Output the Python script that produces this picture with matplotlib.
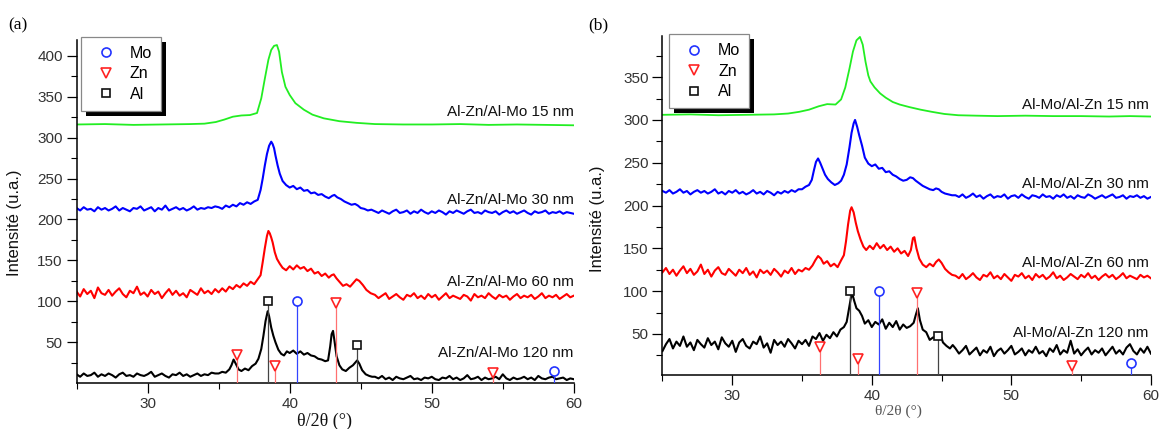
import matplotlib
matplotlib.use("Agg")
import matplotlib.pyplot as plt
from matplotlib.lines import Line2D
from matplotlib.patches import Rectangle
from matplotlib.transforms import IdentityTransform

plt.rcParams['font.family'] = ['Liberation Sans', 'DejaVu Sans']

# ---------------- shared 2theta grids for flat parts of noisy scans ----------------
X_LEFT = [25.0, 25.25, 25.5, 25.75, 26.0, 26.25, 26.5, 26.75, 27.0, 27.25, 27.5, 27.75,
          28.0, 28.25, 28.5, 28.75, 29.0, 29.25, 29.5, 29.75, 30.0, 30.25, 30.5, 30.75,
          31.0, 31.25, 31.5, 31.75, 32.0, 32.25, 32.5, 32.75, 33.0, 33.25, 33.5, 33.75,
          34.0, 34.25, 34.5, 34.75]
X_RIGHT = [46.0, 46.25, 46.5, 46.75, 47.0, 47.25, 47.5, 47.75, 48.0, 48.25, 48.5, 48.75,
           49.0, 49.25, 49.5, 49.75, 50.0, 50.25, 50.5, 50.75, 51.0, 51.25, 51.5, 51.75,
           52.0, 52.25, 52.5, 52.75, 53.0, 53.25, 53.5, 53.75, 54.0, 54.25, 54.5, 54.75,
           55.0, 55.25, 55.5, 55.75, 56.0, 56.25, 56.5, 56.75, 57.0, 57.25, 57.5, 57.75,
           58.0, 58.25, 58.5, 58.75, 59.0, 59.25, 59.5, 59.75, 60.0]

# ---------------- panel (a): Al-Zn/Al-Mo ----------------
A_GREEN_X = [25, 27, 29, 31, 33, 34.0, 34.8, 35.4, 36.0, 36.6, 37.2, 37.7, 38.0, 38.25, 38.5,
             38.7, 38.9, 39.1, 39.25, 39.45, 39.7, 40.0, 40.4, 41.0, 41.6, 42.4, 43.5, 44.7,
             46, 48, 50, 52, 54, 56, 58, 60]
A_GREEN_Y = [316, 316.5, 315.5, 316, 316.5, 317, 319, 322, 325.5, 327, 327.5, 330, 348, 372, 395,
             407, 412, 413, 405, 380, 362, 352, 342, 334, 328, 323.5, 320, 318,
             316.5, 316, 316, 316.5, 315.5, 316, 315.5, 315]

A_BLUE_LEFT = [214, 211, 215, 212, 213, 210, 215, 212, 214, 211, 213, 216, 211, 214, 212, 210,
               214, 213, 216, 211, 213, 215, 210, 214, 212, 217, 211, 213, 215, 212, 214, 211,
               213, 216, 212, 214, 213, 215, 214, 216]
A_BLUE_MID_X = [35.0, 35.25, 35.5, 35.75, 36.0, 36.25, 36.5, 36.75, 37.0, 37.25, 37.5, 37.75,
                37.95, 38.1, 38.25, 38.4, 38.55, 38.7, 38.8, 38.9, 39.0, 39.15, 39.3, 39.5,
                39.75, 40.0, 40.25, 40.5, 40.75, 41.0, 41.25, 41.5, 41.75, 42.0, 42.25, 42.5,
                42.75, 43.0, 43.15, 43.35, 43.6, 43.85, 44.1, 44.35, 44.6, 44.8, 45.0, 45.25,
                45.5, 45.75]
A_BLUE_MID = [215, 213, 217, 215, 218, 216, 220, 218, 221, 219, 222, 224, 236, 250, 266, 280,
              290, 295, 292, 287, 278, 266, 256, 247, 242, 239, 241, 237, 239, 235, 236, 232,
              233, 230, 231, 228, 226, 229, 230, 227, 225, 222, 220, 218, 219, 217, 214, 213,
              211, 212]
A_BLUE_RIGHT = [210, 208, 211, 209, 207, 210, 212, 208, 209, 211, 207, 210, 208, 212, 209, 207,
                210, 208, 211, 209, 206, 210, 208, 211, 209, 207, 210, 212, 208, 209, 207, 211,
                209, 208, 210, 206, 209, 211, 208, 210, 207, 209, 211, 208, 206, 210, 208, 209,
                211, 207, 209, 208, 210, 207, 209, 208, 207]

A_RED_LEFT = [112, 106, 115, 109, 113, 104, 117, 110, 108, 114, 107, 112, 116, 109, 105, 113,
              110, 118, 108, 111, 106, 114, 109, 112, 104, 110, 115, 108, 113, 107, 110, 105,
              114, 111, 108, 116, 110, 113, 109, 115]
A_RED_MID_X = [35.0, 35.25, 35.5, 35.75, 36.0, 36.25, 36.5, 36.75, 37.0, 37.25, 37.5, 37.75,
               37.95, 38.1, 38.25, 38.4, 38.5, 38.6, 38.7, 38.8, 38.95, 39.1, 39.3, 39.5, 39.75,
               40.0, 40.25, 40.5, 40.75, 41.0, 41.25, 41.5, 41.75, 42.0, 42.25, 42.5, 42.75,
               42.95, 43.1, 43.3, 43.5, 43.75, 44.0, 44.25, 44.5, 44.7, 44.9, 45.15, 45.4, 45.7]
A_RED_MID = [111, 116, 112, 118, 115, 120, 117, 122, 119, 124, 121, 127, 132, 148, 165, 180,
             186, 183, 178, 172, 160, 152, 146, 141, 138, 143, 139, 144, 140, 142, 137, 140,
             134, 136, 131, 134, 129, 132, 133, 128, 124, 119, 121, 118, 123, 127, 125, 120,
             114, 110]
A_RED_RIGHT = [108, 104, 107, 110, 103, 106, 109, 105, 102, 108, 106, 110, 104, 107, 103, 109,
               105, 108, 102, 106, 110, 104, 107, 105, 103, 108, 106, 101, 109, 105, 107, 104,
               110, 106, 103, 108, 105, 107, 102, 106, 109, 104, 107, 105, 108, 103, 106, 110,
               104, 107, 105, 108, 103, 106, 109, 105, 107]

A_BLACK_LEFT = [11, 8, 12, 9, 10, 13, 8, 11, 9, 12, 10, 7, 11, 13, 9, 10, 8, 12, 10, 9,
                11, 14, 8, 10, 12, 9, 7, 11, 10, 13, 9, 11, 8, 10, 12, 9, 11, 10, 13, 12]
A_BLACK_MID_X = [35.0, 35.25, 35.5, 35.75, 35.9, 36.05, 36.2, 36.4, 36.6, 36.85, 37.1, 37.35,
                 37.6, 37.8, 38.0, 38.15, 38.3, 38.45, 38.55, 38.7, 38.85, 39.0, 39.2, 39.4,
                 39.6, 39.8, 40.0, 40.25, 40.5, 40.75, 41.0, 41.25, 41.5, 41.75, 42.0, 42.25,
                 42.5, 42.7, 42.85, 42.95, 43.05, 43.15, 43.3, 43.5, 43.7, 43.95, 44.2, 44.45,
                 44.6, 44.75, 44.9, 45.1, 45.35, 45.6, 45.8]
A_BLACK_MID = [12, 14, 13, 17, 22, 29, 24, 17, 15, 18, 16, 21, 24, 30, 42, 58, 76, 88, 82, 68,
               58, 50, 41, 36, 34, 39, 37, 40, 36, 39, 35, 37, 34, 33, 30, 29, 27, 28, 45, 60,
               64, 52, 33, 22, 17, 15, 19, 22, 25, 28, 24, 16, 11, 9, 8]
A_BLACK_RIGHT = [8, 6, 9, 5, 7, 4, 8, 6, 5, 7, 9, 5, 6, 4, 7, 6, 8, 5, 4, 7, 6, 9, 5, 7, 4, 6,
                 10, 5, 6, 8, 4, 7, 5, 6, 8, 5, 11, 6, 4, 7, 5, 6, 8, 5, 7, 4, 9, 6, 5, 7, 8, 5,
                 6, 7, 4, 6, 5]

A_LABELS = ["Al-Zn/Al-Mo 15 nm", "Al-Zn/Al-Mo 30 nm", "Al-Zn/Al-Mo 60 nm", "Al-Zn/Al-Mo 120 nm"]
A_LABEL_Y = [331, 224, 124, 37.5]

# ---------------- panel (b): Al-Mo/Al-Zn ----------------
B_GREEN_X = [25, 27, 29, 31, 33, 34.0, 34.8, 35.5, 36.2, 36.8, 37.4, 37.8, 38.1, 38.4, 38.65,
             38.9, 39.15, 39.35, 39.55, 39.75, 39.9, 40.2, 40.6, 41.0, 41.5, 42.0, 42.7, 43.5,
             44.3, 45.2, 46.2, 47.5, 49, 51, 53, 55, 57, 58.5, 60]
B_GREEN_Y = [306, 306.5, 305.5, 306, 306.5, 307.5, 309.5, 312, 316, 318.5, 318, 324, 338, 360,
             380, 393, 397, 388, 368, 352, 345, 338, 331, 326, 321, 318, 315, 312, 309.5, 307,
             305.5, 305, 304.5, 305, 304.5, 304.5, 304, 304.5, 304]

B_BLUE_LEFT = [217, 215, 218, 214, 216, 219, 215, 217, 213, 216, 218, 215, 217, 214, 216, 219,
               214, 216, 213, 217, 215, 218, 214, 216, 213, 215, 218, 214, 216, 213, 217, 215,
               212, 216, 214, 217, 215, 218, 216, 219]
B_BLUE_MID_X = [35.0, 35.25, 35.5, 35.7, 35.85, 36.0, 36.15, 36.3, 36.45, 36.65, 36.85, 37.1,
                37.35, 37.6, 37.8, 38.0, 38.2, 38.4, 38.55, 38.7, 38.8, 38.95, 39.1, 39.3, 39.5,
                39.75, 40.0, 40.25, 40.5, 40.75, 41.0, 41.25, 41.5, 41.75, 42.0, 42.25, 42.5,
                42.75, 42.95, 43.15, 43.4, 43.65, 43.9, 44.15, 44.4, 44.6, 44.8, 45.0, 45.25,
                45.5, 45.75]
B_BLUE_MID = [219, 222, 224, 230, 241, 251, 255, 250, 244, 236, 231, 227, 224, 226, 229, 236,
              248, 268, 285, 296, 300, 292, 282, 270, 256, 249, 246, 248, 243, 244, 239, 240,
              236, 234, 231, 229, 230, 233, 232, 229, 226, 223, 221, 219, 218, 220, 219, 216,
              214, 213, 212]
B_BLUE_RIGHT = [212, 210, 213, 209, 211, 214, 210, 212, 208, 211, 213, 209, 211, 210, 213, 208,
                211, 212, 209, 213, 210, 208, 212, 211, 209, 213, 210, 211, 208, 212, 210, 213,
                209, 211, 208, 212, 210, 209, 213, 211, 208, 210, 212, 209, 211, 213, 209, 210,
                212, 208, 211, 210, 212, 209, 211, 208, 210]

B_RED_LEFT = [122, 127, 120, 125, 118, 124, 129, 121, 126, 119, 123, 131, 120, 125, 117, 124,
              128, 121, 119, 126, 122, 118, 125, 121, 127, 119, 123, 116, 125, 121, 124, 119,
              126, 122, 117, 124, 121, 127, 120, 125]
B_RED_MID_X = [35.0, 35.25, 35.5, 35.75, 35.95, 36.15, 36.35, 36.55, 36.8, 37.05, 37.3, 37.55,
               37.8, 38.0, 38.15, 38.3, 38.45, 38.55, 38.7, 38.85, 39.0, 39.2, 39.4, 39.6, 39.85,
               40.1, 40.35, 40.6, 40.85, 41.1, 41.35, 41.6, 41.85, 42.1, 42.35, 42.6, 42.8,
               42.95, 43.05, 43.2, 43.4, 43.65, 43.9, 44.15, 44.4, 44.6, 44.8, 45.0, 45.25,
               45.5, 45.75]
B_RED_MID = [123, 127, 125, 130, 136, 141, 138, 132, 135, 129, 132, 128, 136, 142, 158, 178,
             194, 198, 192, 180, 170, 160, 152, 148, 153, 149, 156, 150, 154, 148, 152, 146,
             150, 144, 147, 141, 148, 162, 163, 150, 138, 131, 128, 132, 129, 134, 137, 133,
             126, 122, 119]
B_RED_RIGHT = [118, 115, 120, 114, 117, 121, 116, 113, 119, 117, 122, 115, 118, 114, 120, 116,
               112, 119, 117, 121, 115, 118, 113, 120, 116, 119, 114, 117, 122, 115, 118, 113,
               116, 120, 117, 114, 119, 116, 121, 115, 118, 113, 117, 120, 116, 119, 114, 117,
               121, 115, 118, 116, 114, 119, 116, 118, 115]

B_BLACK_LEFT = [30, 38, 44, 33, 41, 36, 47, 35, 40, 31, 43, 38, 34, 45, 37, 41, 32, 46, 39, 35,
                42, 29, 40, 44, 36, 33, 41, 38, 47, 34, 39, 28, 43, 37, 41, 35, 44, 39, 33, 42]
B_BLACK_MID_X = [35.0, 35.25, 35.5, 35.75, 36.0, 36.25, 36.5, 36.75, 37.0, 37.25, 37.5, 37.75,
                 38.0, 38.2, 38.35, 38.5, 38.6, 38.75, 38.9, 39.1, 39.3, 39.5, 39.75, 40.0,
                 40.25, 40.5, 40.75, 41.0, 41.25, 41.5, 41.75, 42.0, 42.25, 42.5, 42.75, 43.0,
                 43.15, 43.3, 43.45, 43.65, 43.9, 44.15, 44.4, 44.65, 44.9, 45.1, 45.35, 45.6,
                 45.8]
B_BLACK_MID = [38, 43, 36, 47, 44, 51, 42, 49, 45, 52, 47, 55, 58, 64, 78, 92, 97, 88, 80, 77,
               71, 62, 66, 58, 64, 61, 67, 56, 63, 58, 65, 55, 61, 57, 59, 63, 72, 80, 66, 55,
               52, 43, 46, 44, 50, 40, 36, 33, 37]
B_BLACK_RIGHT = [33, 27, 31, 36, 26, 30, 34, 25, 31, 28, 35, 24, 30, 33, 27, 31, 36, 26, 29, 33,
                 25, 31, 28, 35, 27, 30, 24, 33, 29, 37, 26, 31, 28, 42, 27, 32, 25, 30, 34, 26,
                 31, 28, 33, 25, 30, 35, 27, 31, 26, 34, 38, 30, 26, 33, 28, 35, 27]

B_LABELS = ["Al-Mo/Al-Zn 15 nm", "Al-Mo/Al-Zn 30 nm", "Al-Mo/Al-Zn 60 nm", "Al-Mo/Al-Zn 120 nm"]
B_LABEL_Y = [317.5, 225, 132.6, 50.8]

# ---------------- reference peak positions (same in both panels) ----------------
REF_MO_X = [40.52, 58.6]
REF_MO_Y = [100, 15.5]
REF_ZN_X = [36.3, 38.99, 43.23, 54.34]
REF_ZN_Y = [35, 21, 98, 13]
REF_AL_X = [38.47, 44.74]
REF_AL_Y = [100, 47]

LEGEND_LABELS = ["Mo", "Zn", "Al"]

C_GREEN, C_BLUE, C_RED, C_BLACK = '#22ee22', '#0000ff', '#ff0000', '#000000'

fig = plt.figure(figsize=(11.59, 4.29), dpi=100)
axA = fig.add_axes([0.0661, 0.1065, 0.429, 0.800])
axB = fig.add_axes([0.5716, 0.1259, 0.4214, 0.790])


def draw_panel(ax, curves, labels, label_y, label_x, ylim, yticks, yminor, leg_anchor):
    for i, (xs, ys, col) in enumerate(curves):
        ax.plot(xs, ys, color=col, lw=1.3 if i == 0 else 1.5, zorder=2)
    for txt, yy in zip(labels, label_y):
        ax.text(label_x, yy, txt, ha='right', va='center', fontsize=11, color='#111111')
    y0 = ylim[0]
    refs = [(REF_MO_X, REF_MO_Y, '#2233ff', '#3344ff', 'o', 6.5),
            (REF_ZN_X, REF_ZN_Y, '#ff2222', '#ff7070', 'v', 7.5),
            (REF_AL_X, REF_AL_Y, '#111111', '#444444', 's', 6.0)]
    for xs, ys, mcol, lcol, mk, ms in refs:
        ax.vlines(xs, y0, ys, colors=lcol, lw=0.9, zorder=3)
        ax.plot(xs, ys, ls='none', marker=mk, ms=ms, mfc='white', mec=mcol, mew=1.2, zorder=4)
    ax.set_xlim(25, 60)
    ax.set_ylim(*ylim)
    for s in ['top', 'right']:
        ax.spines[s].set_visible(False)
    for s in ['left', 'bottom']:
        ax.spines[s].set_linewidth(1.1)
    ax.set_xticks([30, 40, 50, 60])
    ax.set_xticks([25, 35, 45, 55], minor=True)
    ax.set_yticks(yticks)
    ax.set_yticks(yminor, minor=True)
    ax.tick_params(which='major', direction='out', length=7, width=0.9, labelsize=11,
                   labelcolor='#333333', pad=3)
    ax.tick_params(which='minor', direction='out', length=4, width=0.8)
    handles = [Line2D([], [], ls='none', marker='o', ms=6.5, mfc='white', mec='#2233ff', mew=1.2),
               Line2D([], [], ls='none', marker='v', ms=7.5, mfc='white', mec='#ff2222', mew=1.2),
               Line2D([], [], ls='none', marker='s', ms=5.5, mfc='white', mec='#111111', mew=1.2)]
    leg = ax.legend(handles, LEGEND_LABELS, loc='upper left', bbox_to_anchor=leg_anchor,
                    borderaxespad=0, fancybox=False, shadow=False,
                    edgecolor='#888888', framealpha=1, fontsize=11.5, handlelength=2.0,
                    handletextpad=0.5, labelspacing=0.35, borderpad=0.55)
    leg.get_frame().set_linewidth(0.9)
    ax.set_ylabel("Intensité (u.a.)", fontsize=12, color='#111111')
    return leg


legA = draw_panel(axA,
           [(A_GREEN_X, A_GREEN_Y, C_GREEN),
            (X_LEFT + A_BLUE_MID_X + X_RIGHT, A_BLUE_LEFT + A_BLUE_MID + A_BLUE_RIGHT, C_BLUE),
            (X_LEFT + A_RED_MID_X + X_RIGHT, A_RED_LEFT + A_RED_MID + A_RED_RIGHT, C_RED),
            (X_LEFT + A_BLACK_MID_X + X_RIGHT, A_BLACK_LEFT + A_BLACK_MID + A_BLACK_RIGHT, C_BLACK)],
           A_LABELS, A_LABEL_Y, 60, (0, 419),
           [50, 100, 150, 200, 250, 300, 350, 400],
           [25, 75, 125, 175, 225, 275, 325, 375],
           (0.009, 1.009))
legB = draw_panel(axB,
           [(B_GREEN_X, B_GREEN_Y, C_GREEN),
            (X_LEFT + B_BLUE_MID_X + X_RIGHT, B_BLUE_LEFT + B_BLUE_MID + B_BLUE_RIGHT, C_BLUE),
            (X_LEFT + B_RED_MID_X + X_RIGHT, B_RED_LEFT + B_RED_MID + B_RED_RIGHT, C_RED),
            (X_LEFT + B_BLACK_MID_X + X_RIGHT, B_BLACK_LEFT + B_BLACK_MID + B_BLACK_RIGHT, C_BLACK)],
           B_LABELS, B_LABEL_Y, 59.85, (2, 398),
           [50, 100, 150, 200, 250, 300, 350],
           [25, 75, 125, 175, 225, 275, 325, 375],
           (0.014, 1.005))

axA.yaxis.set_label_coords(-0.11, 0.468)
axB.yaxis.set_label_coords(-0.118, 0.462)

fig.text(325 / 1159, 1 - 421 / 429, "θ/2θ (°)", family=['Liberation Serif', 'DejaVu Serif'],
         fontsize=13, ha='center', va='center', color='#111111')
fig.text(898 / 1159, 1 - 411 / 429, "θ/2θ (°)", family=['Liberation Serif', 'DejaVu Serif'],
         fontsize=11, ha='center', va='center', color='#555555')
fig.text(8 / 1159, 1 - 25 / 429, "(a)", family=['Liberation Serif', 'DejaVu Serif'],
         fontsize=12.5, ha='left', va='center')
fig.text(588 / 1159, 1 - 25 / 429, "(b)", family=['Liberation Serif', 'DejaVu Serif'],
         fontsize=12.5, ha='left', va='center')

# thick black drop shadow behind each legend box
fig.canvas.draw()
for ax, leg in ((axA, legA), (axB, legB)):
    bb = leg.get_frame().get_window_extent()
    shadow = Rectangle((bb.x0 + 5, bb.y0 - 5), bb.width, bb.height, transform=IdentityTransform(),
                       facecolor='black', edgecolor='none', zorder=4.9, clip_on=False)
    ax.add_artist(shadow)

fig.savefig("out.png", dpi=100)
